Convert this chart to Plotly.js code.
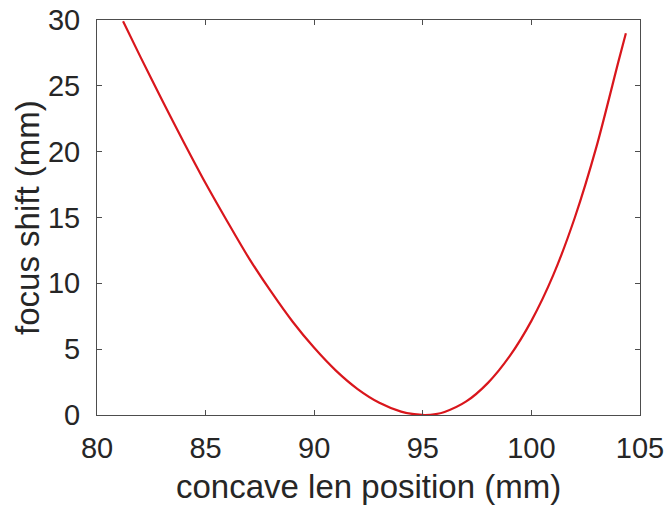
<!DOCTYPE html>
<html>
<head>
<meta charset="utf-8">
<script src="https://cdn.plot.ly/plotly-3.0.1.min.js"></script>
<style>html,body{margin:0;padding:0;background:#fff;}#chart{width:667px;height:505px;}</style>
</head>
<body>
<div id="chart"></div>
<script>
// concave lens position (mm)
const lensPosition = [81.2, 82, 83, 84, 85, 86, 87, 88, 89, 90, 91, 92, 93, 94, 94.6, 95.1, 95.6, 96, 97, 98, 99, 100, 101, 102, 103, 104, 104.35];
// focus shift (mm)
const focusShift = [29.9, 27.2, 23.9, 20.7, 17.6, 14.7, 11.9, 9.4, 7.1, 5.1, 3.37, 1.97, 0.93, 0.26, 0.06, 0, 0.07, 0.23, 1.03, 2.44, 4.47, 7.15, 10.6, 15.0, 20.4, 26.8, 29.0];
const xTicks = [80, 85, 90, 95, 100, 105];
const yTicks = [0, 5, 10, 15, 20, 25, 30];
const xTitle = 'concave len position (mm)';
const yTitle = 'focus shift (mm)';

const textColor = '#262626';
const fontFamily = '"Liberation Sans", Arial, Helvetica, sans-serif';

const trace = {
  x: lensPosition,
  y: focusShift,
  type: 'scatter',
  mode: 'lines',
  line: {color: '#d9161c', width: 2.2, shape: 'spline', smoothing: 0.8},
  hoverinfo: 'skip'
};

const axisCommon = {
  showline: true,
  linecolor: '#4d4d4d',
  linewidth: 1,
  mirror: 'ticks',
  ticks: 'inside',
  ticklen: 5,
  tickwidth: 1,
  tickcolor: '#4d4d4d',
  showgrid: false,
  zeroline: false,
  tickfont: {family: fontFamily, size: 29, color: textColor}
};

const titleFont = {family: fontFamily, size: 33, color: textColor};

const layout = {
  width: 667,
  height: 505,
  margin: {l: 97, r: 27, t: 20, b: 90},
  paper_bgcolor: '#ffffff',
  plot_bgcolor: '#ffffff',
  showlegend: false,
  font: {family: fontFamily, color: textColor},
  xaxis: Object.assign({}, axisCommon, {
    range: [80, 105],
    tickvals: xTicks,
    ticktext: xTicks.map(String),
    ticklabelstandoff: 7
  }),
  yaxis: Object.assign({}, axisCommon, {
    range: [0, 30],
    tickvals: yTicks,
    ticktext: yTicks.map(String),
    ticklabelstandoff: 10
  }),
  annotations: [
    {text: xTitle, xref: 'paper', yref: 'paper', x: 0.5, y: -0.18, xanchor: 'center', yanchor: 'middle', showarrow: false, font: titleFont},
    {text: yTitle, xref: 'paper', yref: 'paper', x: -0.128, y: 0.5, xanchor: 'center', yanchor: 'middle', textangle: -90, showarrow: false, font: titleFont}
  ]
};

Plotly.newPlot('chart', [trace], layout, {displayModeBar: false, staticPlot: true});
</script>
</body>
</html>
